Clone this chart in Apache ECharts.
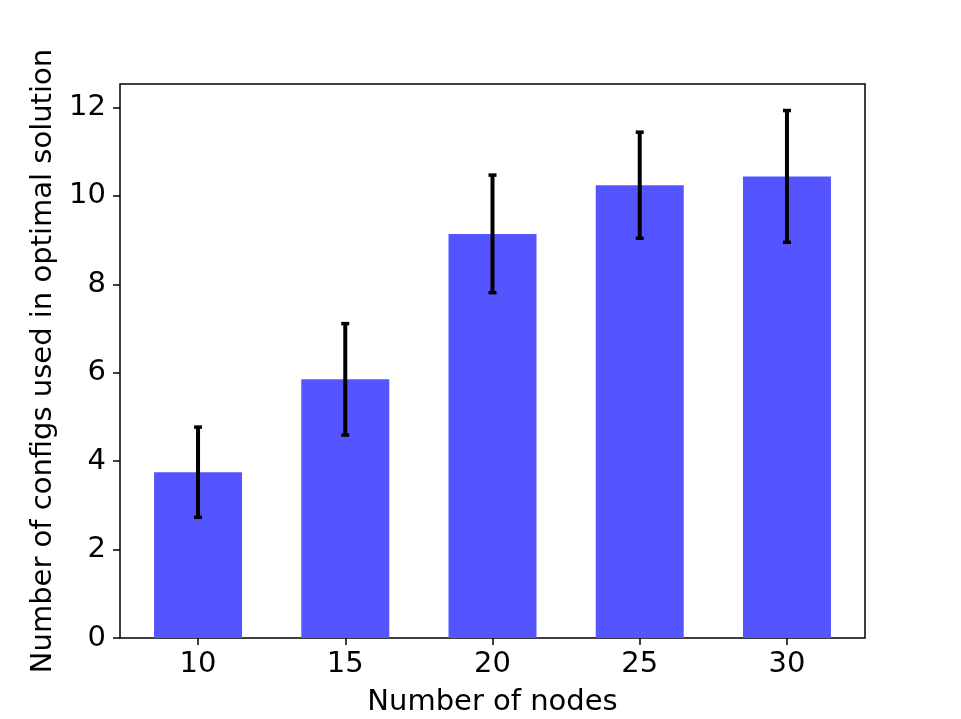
<!DOCTYPE html>
<html>
<head>
<meta charset="utf-8">
<script src="https://cdn.jsdelivr.net/npm/echarts@6/dist/echarts.min.js"></script>
<style>
  html, body { margin: 0; padding: 0; background: #fff; }
  #chart { width: 961px; height: 719px; }
</style>
</head>
<body>
<div id="chart"></div>
<script>
// данные с картинки
const nodes = [10, 15, 20, 25, 30];
const meanConfigs = [3.75, 5.85, 9.14, 10.24, 10.44];
const stdConfigs = [1.02, 1.26, 1.33, 1.20, 1.49];
const xTicks = [10, 15, 20, 25, 30];
const yTicks = [0, 2, 4, 6, 8, 10, 12];

const font = 'DejaVu Sans';
const chart = echarts.init(document.getElementById('chart'));

const barData = nodes.map((n, i) => [n, meanConfigs[i]]);
const errData = nodes.map((n, i) => [n, meanConfigs[i] - stdConfigs[i], meanConfigs[i] + stdConfigs[i]]);

const option = {
    animation: false,
    backgroundColor: '#fff',
    grid: {
        left: 120, right: 96, top: 84, bottom: 81,
        outerBoundsMode: 'none',
        show: true, borderColor: '#000', borderWidth: 1.5, backgroundColor: 'transparent'
    },
    xAxis: {
        type: 'value',
        min: 7.35,
        max: 32.65,
        name: 'Number of nodes',
        nameLocation: 'middle',
        nameGap: 50,
        nameTextStyle: { fontFamily: font, fontSize: 29, color: '#000' },
        splitLine: { show: false },
        axisLine: { show: false },
        axisTick: { show: true, length: 7, lineStyle: { color: '#000', width: 1.5 }, customValues: xTicks },
        axisLabel: { fontFamily: font, fontSize: 29, color: '#000', margin: 12, customValues: xTicks }
    },
    yAxis: {
        type: 'value',
        min: 0,
        max: 12.53,
        name: 'Number of configs used in optimal solution',
        nameLocation: 'middle',
        nameGap: 58,
        nameTextStyle: { fontFamily: font, fontSize: 29, color: '#000' },
        splitLine: { show: false },
        axisLine: { show: false },
        axisTick: { show: true, length: 7, lineStyle: { color: '#000', width: 1.5 }, customValues: yTicks },
        axisLabel: { fontFamily: font, fontSize: 29, color: '#000', margin: 14, customValues: yTicks }
    },
    series: [
        {
            type: 'bar',
            data: barData,
            barWidth: 88,
            itemStyle: { color: '#5555ff' }
        },
        {
            type: 'custom',
            data: errData,
            z: 5,
            renderItem: (params, api) => {
                const x = api.value(0);
                const lo = api.coord([x, api.value(1)]);
                const hi = api.coord([x, api.value(2)]);
                const cap = 4;
                const capStyle = { stroke: '#000', lineWidth: 3.5 };
                return {
                    type: 'group',
                    children: [
                        { type: 'line', shape: { x1: lo[0], y1: lo[1], x2: hi[0], y2: hi[1] }, style: { stroke: '#000', lineWidth: 4 } },
                        { type: 'line', shape: { x1: lo[0] - cap, y1: lo[1], x2: lo[0] + cap, y2: lo[1] }, style: capStyle },
                        { type: 'line', shape: { x1: hi[0] - cap, y1: hi[1], x2: hi[0] + cap, y2: hi[1] }, style: capStyle }
                    ]
                };
            }
        }
    ]
};

chart.setOption(option);
window.addEventListener('resize', () => chart.resize());
</script>
</body>
</html>
